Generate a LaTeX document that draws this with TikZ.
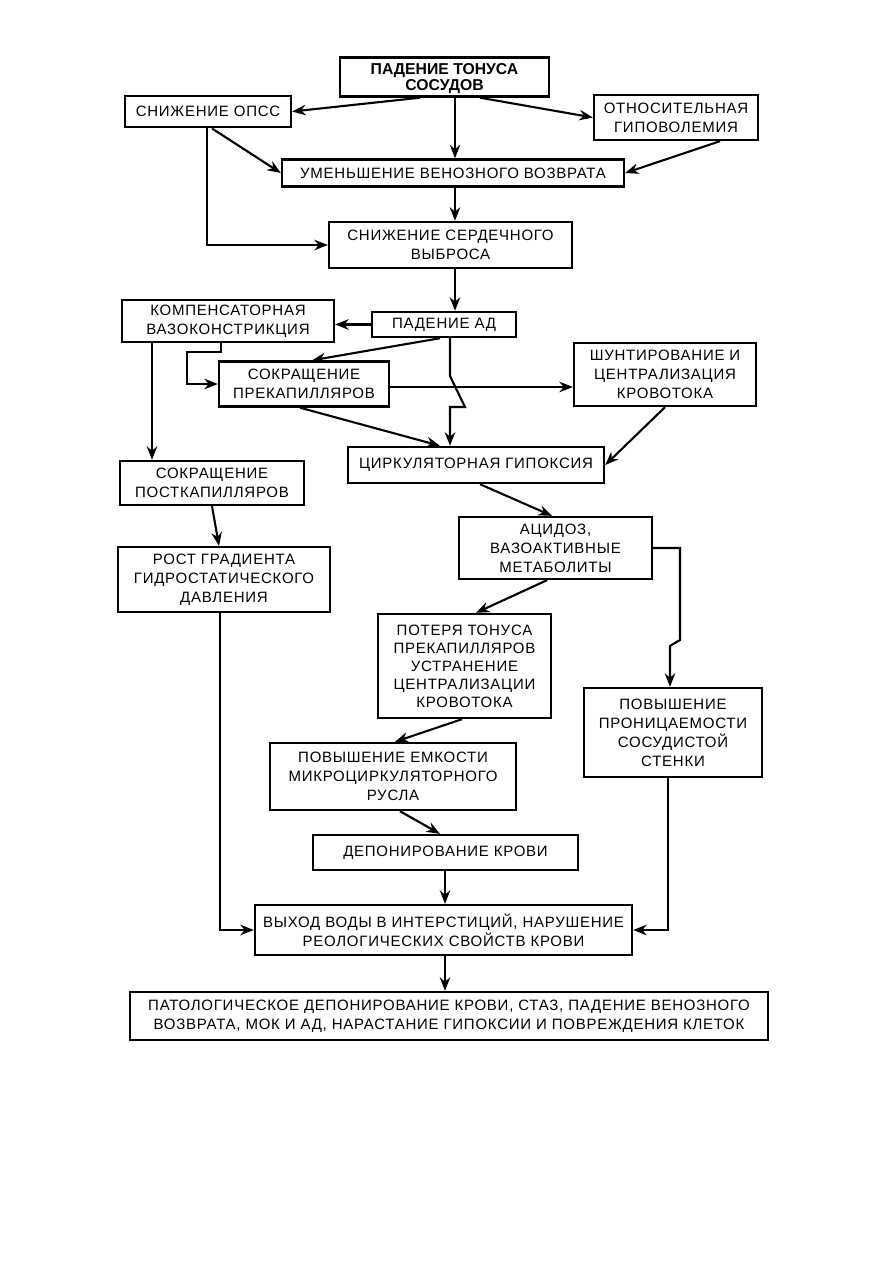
\documentclass[tikz,border=0pt]{standalone}
\usepackage{fontspec}
\setmainfont{Liberation Sans}[LetterSpace=5]
\usetikzlibrary{arrows.meta,positioning,calc}

\begin{document}
\begin{tikzpicture}[x=0.6667pt, y=-0.6667pt, line cap=butt,
  box/.style={draw, line width=1.6pt, align=center, inner sep=0pt,
              font=\fontsize{10}{12.7}\selectfont},
  arr/.style={line width=1.4pt, -{Stealth[length=9pt,width=7pt]}}]
  \useasboundingbox (0,0) rectangle (893,1263);
  % upper part
  \node[box, minimum width=139pt, minimum height=26pt, text depth=0pt, font=\fontsize{10.5}{11.3}\selectfont\bfseries\addfontfeature{LetterSpace=0}] (tonus) at (444.5,77) {ПАДЕНИЕ ТОНУСА\\СОСУДОВ};
  \node[box, minimum width=110.7pt, minimum height=21pt] (opss) at (208,111.5) {СНИЖЕНИЕ ОПСС};
  \node[box, minimum width=109.3pt, minimum height=30pt] (gipo) at (676,117.5) {ОТНОСИТЕЛЬНАЯ\\ГИПОВОЛЕМИЯ};
  \node[box, minimum width=228pt, minimum height=18pt] (venoz) at (453,173) {УМЕНЬШЕНИЕ ВЕНОЗНОГО ВОЗВРАТА};
  \node[box, minimum width=162pt, minimum height=30.7pt] (serd) at (450.5,245) {СНИЖЕНИЕ СЕРДЕЧНОГО\\ВЫБРОСА};
  \node[box, minimum width=141.3pt, minimum height=28pt] (komp) at (228,321) {КОМПЕНСАТОРНАЯ\\ВАЗОКОНСТРИКЦИЯ};
  \node[box, minimum width=96pt, minimum height=16.7pt] (ad) at (444,324.5) {ПАДЕНИЕ АД};
  \node[box, minimum width=113.3pt, minimum height=30pt] (prek) at (304,384) {СОКРАЩЕНИЕ\\ПРЕКАПИЛЛЯРОВ};
  \node[box, minimum width=121.3pt, minimum height=42pt] (shunt) at (665,374.5) {ШУНТИРОВАНИЕ И\\ЦЕНТРАЛИЗАЦИЯ\\КРОВОТОКА};
  \node[box, minimum width=170.7pt, minimum height=24pt] (cirk) at (476,465) {ЦИРКУЛЯТОРНАЯ ГИПОКСИЯ};
  \node[box, minimum width=122.7pt, minimum height=29.3pt] (post) at (212,483) {СОКРАЩЕНИЕ\\ПОСТКАПИЛЛЯРОВ};
  % lower part
  \node[box, minimum width=128.7pt, minimum height=41.3pt] (acid) at (555.5,548) {АЦИДОЗ,\\ВАЗОАКТИВНЫЕ\\МЕТАБОЛИТЫ};
  \node[box, minimum width=141.3pt, minimum height=43.3pt] (rost) at (224,579.5) {РОСТ ГРАДИЕНТА\\ГИДРОСТАТИЧЕСКОГО\\ДАВЛЕНИЯ};
  \node[box, minimum width=115.3pt, minimum height=69.3pt, font=\fontsize{10}{12}\selectfont] (potera) at (464.5,666) {ПОТЕРЯ ТОНУСА\\ПРЕКАПИЛЛЯРОВ\\УСТРАНЕНИЕ\\ЦЕНТРАЛИЗАЦИИ\\КРОВОТОКА};
  \node[box, minimum width=118.7pt, minimum height=59.3pt] (pron) at (673,732.5) {ПОВЫШЕНИЕ\\ПРОНИЦАЕМОСТИ\\СОСУДИСТОЙ\\СТЕНКИ};
  \node[box, minimum width=164pt, minimum height=44.7pt] (emk) at (393,776.5) {ПОВЫШЕНИЕ ЕМКОСТИ\\МИКРОЦИРКУЛЯТОРНОГО\\РУСЛА};
  \node[box, minimum width=176.7pt, minimum height=23.3pt] (depon) at (445.5,852.5) {ДЕПОНИРОВАНИЕ КРОВИ};
  \node[box, minimum width=251.3pt, minimum height=33.3pt] (vyhod) at (443.5,930) {ВЫХОД ВОДЫ В ИНТЕРСТИЦИЙ, НАРУШЕНИЕ\\РЕОЛОГИЧЕСКИХ СВОЙСТВ КРОВИ};
  \node[box, minimum width=425.3pt, minimum height=32pt] (patol) at (449,1016) {ПАТОЛОГИЧЕСКОЕ ДЕПОНИРОВАНИЕ КРОВИ, СТАЗ, ПАДЕНИЕ ВЕНОЗНОГО\\ВОЗВРАТА, МОК И АД, НАРАСТАНИЕ ГИПОКСИИ И ПОВРЕЖДЕНИЯ КЛЕТОК};
  % arrows
  \draw[arr] (tonus.south -| 420,0) -- (opss.east);
  \draw[arr] (tonus.south -| 455,0) -- (venoz.north -| 455,0);
  \draw[arr] (tonus.south -| 480,0) -- (gipo.west);
  \draw[arr] (opss.south -| 212,0) -- (venoz.west);
  \draw[arr] (opss.south -| 207,0) |- (serd.west);
  \draw[arr] (gipo.south -| 720,0) -- (venoz.east);
  \draw[arr] (venoz.south -| 455,0) -- (serd.north -| 455,0);
  \draw[arr] (serd.south -| 455,0) -- (ad.north -| 455,0);
  \draw[arr] (ad.west) -- (ad.west -| komp.east);
  \draw[arr] (ad.south -| 440,0) -- (prek.north -| 312,0);
  \draw[arr] (ad.south -| 450,0) -- (450,376) -- (465,407) -- (450,407) -- (cirk.north -| 450,0);
  \draw[arr] (komp.south -| 221,0) -- (221,352) -- (187,352) |- (prek.west);
  \draw[arr] (komp.south -| 152,0) -- (post.north -| 152,0);
  \draw[arr] (prek.east |- 0,387) -- (shunt.west |- 0,387);
  \draw[arr] (prek.south -| 300,0) -- (cirk.north -| 440,0);
  \draw[arr] (shunt.south -| 665,0) -- (cirk.east);
  \draw[arr] (cirk.south -| 480,0) -- (acid.north -| 552,0);
  \draw[arr] (post.south -| 212,0) -- (rost.north -| 219,0);
  \draw[arr] (acid.south -| 547,0) -- (potera.north -| 476,0);
  \draw[arr] (acid.east) -- (680,548) -- (680,640) -- (670,646) -- (pron.north -| 670,0);
  \draw[arr] (potera.south -| 462,0) -- (emk.north -| 395,0);
  \draw[arr] (emk.south -| 400,0) -- (depon.north -| 440,0);
  \draw[arr] (depon.south -| 445,0) -- (vyhod.north -| 445,0);
  \draw[arr] (rost.south -| 220,0) |- (vyhod.west);
  \draw[arr] (pron.south -| 668,0) |- (vyhod.east);
  \draw[arr] (vyhod.south -| 445,0) -- (patol.north -| 445,0);
\end{tikzpicture}
\end{document}
